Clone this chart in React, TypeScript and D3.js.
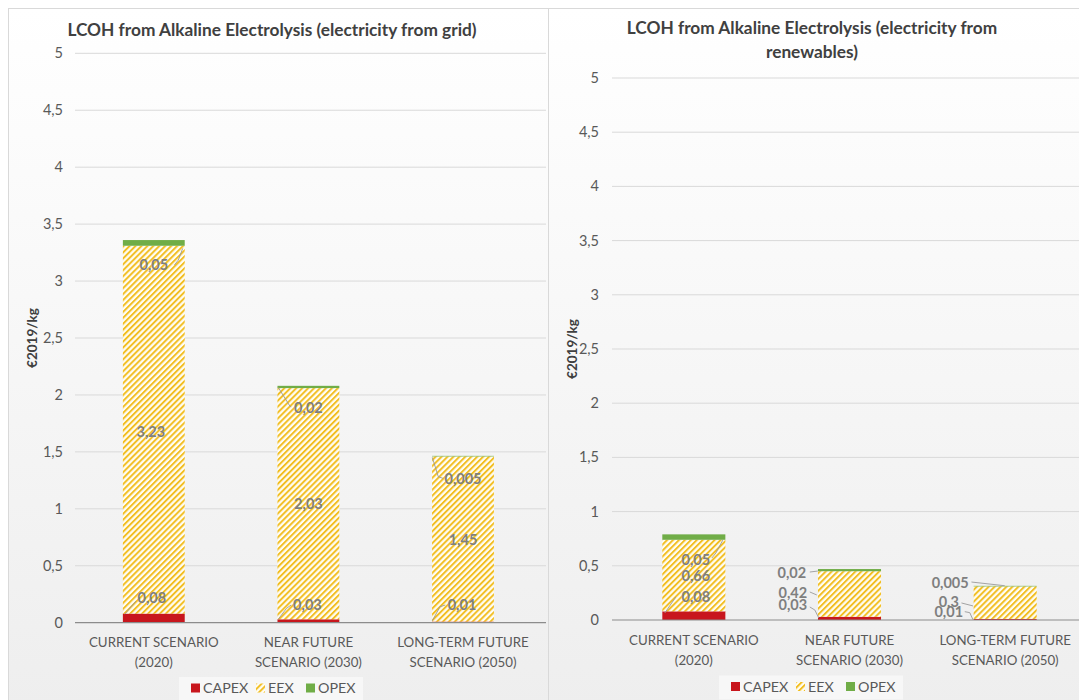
import React from "react";
import * as d3 from "d3";

// ---------- DATA ----------
const categories = ["CURRENT SCENARIO (2020)", "NEAR FUTURE SCENARIO (2030)", "LONG-TERM FUTURE SCENARIO (2050)"];
const categoryLines = [
  ["CURRENT SCENARIO", "(2020)"],
  ["NEAR FUTURE", "SCENARIO (2030)"],
  ["LONG-TERM FUTURE", "SCENARIO (2050)"],
];
const seriesNames = ["CAPEX", "EEX", "OPEX"];

const gridCapex = [0.08, 0.03, 0.01];
const gridEex = [3.23, 2.03, 1.45];
const gridOpex = [0.05, 0.02, 0.005];

const renewCapex = [0.08, 0.03, 0.01];
const renewEex = [0.66, 0.42, 0.3];
const renewOpex = [0.05, 0.02, 0.005];

const yTicks = [0, 0.5, 1, 1.5, 2, 2.5, 3, 3.5, 4, 4.5, 5];

const gridTitle = ["LCOH from Alkaline Electrolysis (electricity from grid)"];
const renewTitle = ["LCOH from Alkaline Electrolysis (electricity from", "renewables)"];
const yTitle = "€2019/kg";

// ---------- LAYOUT / STYLE ----------
const COLORS = { CAPEX: "#c8161d", OPEX: "#70ad47", EEX: "#f2bc1b" };
const FONT = "Lato, 'Open Sans', sans-serif";

type LabelPos = { dx: number; dy: number; leader?: number[][] };

// label offsets relative to (bar centre, segment middle), per category, per series
const gridLabelPos: LabelPos[][] = [
  [
    { dx: -2, dy: -20, leader: [[-29, -4], [-18, -17]] },
    { dx: -3, dy: 2 },
    { dx: 0, dy: 22, leader: [[20.5, 22.2], [24.5, 17.2], [28.9, 5.5]] },
  ],
  [
    { dx: -1, dy: -16, leader: [[-30.2, -1.7], [-21.8, -12.7], [-17.2, -16]] },
    { dx: 0, dy: 0.6 },
    { dx: 0, dy: 20.8, leader: [[-30.2, 0.4], [-18.5, 19.1], [-17.2, 19.8]] },
  ],
  [
    { dx: -1, dy: -17, leader: [[-30.7, -1.4], [-23, -15.4], [-17.7, -17.1]] },
    { dx: 0, dy: 1 },
    { dx: 0, dy: 23.2, leader: [[-30.7, 1.2], [-24.7, 20.6], [-20, 22.2]] },
  ],
];
const renewLabelPos: LabelPos[][] = [
  [
    { dx: 2, dy: -18.7, leader: [[-29, -2.7], [-18, -18.7]] },
    { dx: 2, dy: 0.5 },
    { dx: 2, dy: 23, leader: [[18, 21], [22, 16], [29, 3]] },
  ],
  [
    { dx: -56.7, dy: -13.4, leader: [[-39.7, -11.4], [-34.7, -8.4], [-30.7, -0.4]] },
    { dx: -56.7, dy: -1, leader: [[-39.7, -2], [-32.7, 1]] },
    { dx: -57.7, dy: 2.9, leader: [[-39.7, 1.9], [-31.7, 0.9]] },
  ],
  [
    { dx: -56.4, dy: -7.8, leader: [[-40.4, -7.8], [-35.4, -6.8], [-32.1, 0.5]] },
    { dx: -56.4, dy: -1, leader: [[-43.7, 0.3], [-32.1, 3.3]] },
    { dx: -55, dy: -3.4, leader: [[-33.7, -4.1], [-0.4, -0.4]] },
  ],
];

type ChartCfg = {
  id: string;
  panelX: number;
  panelW: number;
  plotX0: number;
  plotX1: number;
  gridX0: number;
  gridX1: number;
  y0: number;
  y5: number;
  padding: number;
  tickX: number;
  yTitleX: number;
  titleX: number;
  titleY: number;
  catY: number;
  legendX: number;
  legendY: number;
  capex: number[];
  eex: number[];
  opex: number[];
  title: string[];
  labelPos: LabelPos[][];
};

const charts: ChartCfg[] = [
  {
    id: "grid",
    panelX: 8,
    panelW: 540,
    plotX0: 76.5,
    plotX1: 540.3,
    gridX0: 75,
    gridX1: 546,
    y0: 622.7,
    y5: 53.3,
    padding: 0.6,
    tickX: 63,
    yTitleX: 32,
    titleX: 272,
    titleY: 36,
    catY: 647,
    legendX: 191,
    legendY: 688,
    capex: gridCapex,
    eex: gridEex,
    opex: gridOpex,
    title: gridTitle,
    labelPos: gridLabelPos,
  },
  {
    id: "renew",
    panelX: 548,
    panelW: 540,
    plotX0: 616,
    plotX1: 1083,
    gridX0: 612,
    gridX1: 1079,
    y0: 620,
    y5: 78,
    padding: 0.595,
    tickX: 599,
    yTitleX: 572,
    titleX: 812,
    titleY: 34,
    catY: 645,
    legendX: 731,
    legendY: 686.5,
    capex: renewCapex,
    eex: renewEex,
    opex: renewOpex,
    title: renewTitle,
    labelPos: renewLabelPos,
  },
];

const fmt = (v: number) => String(v).replace(".", ",");

function Chart({ cfg }: { cfg: ChartCfg }) {
  const x = d3
    .scaleBand<string>()
    .domain(categories)
    .range([cfg.plotX0, cfg.plotX1])
    .paddingInner(cfg.padding)
    .paddingOuter(cfg.padding / 2);
  const y = d3.scaleLinear().domain([0, 5]).range([cfg.y0, cfg.y5]);

  const table = categories.map((c, i) => ({
    cat: c,
    CAPEX: cfg.capex[i],
    EEX: cfg.eex[i],
    OPEX: cfg.opex[i],
  }));
  const stacked = d3.stack<any>().keys(seriesNames)(table);
  const fills: Record<string, string> = {
    CAPEX: COLORS.CAPEX,
    EEX: `url(#hatch-${cfg.id})`,
    OPEX: COLORS.OPEX,
  };
  const plotMid = (cfg.y0 + cfg.y5) / 2;
  const line = d3.line<number[]>().x((d) => d[0]).y((d) => d[1]);
  const legendOffsets = [0, 65, 115];

  return (
    <g>
      <defs>
        <linearGradient id={`bg-${cfg.id}`} x1="0" y1="0" x2="0" y2="1">
          <stop offset="0" stopColor="#ffffff" />
          <stop offset="1" stopColor="#eeeeee" />
        </linearGradient>
        <pattern
          id={`hatch-${cfg.id}`}
          patternUnits="userSpaceOnUse"
          width="4.2"
          height="4.2"
          patternTransform="rotate(45)"
        >
          <rect width="4.2" height="4.2" fill="#fffdf4" />
          <line x1="1" y1="-1" x2="1" y2="6" stroke={COLORS.EEX} strokeWidth="1.9" />
        </pattern>
      </defs>
      <rect
        x={cfg.panelX + 0.5}
        y={8.5}
        width={cfg.panelW}
        height={700}
        fill={`url(#bg-${cfg.id})`}
        stroke="#d9d9d9"
      />
      {/* title */}
      {cfg.title.map((t, i) => (
        <text
          key={i}
          x={cfg.titleX}
          y={cfg.titleY + i * 24}
          textAnchor="middle"
          fontFamily={FONT}
          fontWeight="bold"
          fontSize="17.3"
          fill="#404040"
        >
          {t}
        </text>
      ))}
      {/* grid */}
      {yTicks.map((t) => (
        <g key={t}>
          {t > 0 && (
            <line x1={cfg.gridX0} x2={cfg.gridX1} y1={y(t)} y2={y(t)} stroke="#d9d9d9" strokeWidth="1" />
          )}
          <text
            x={cfg.tickX}
            y={y(t)}
            dy="0.35em"
            textAnchor="end"
            fontFamily={FONT}
            fontSize="14.5"
            fill="#595959"
          >
            {fmt(t)}
          </text>
        </g>
      ))}
      {/* y title */}
      <text
        transform={`translate(${cfg.yTitleX},${plotMid}) rotate(-90)`}
        textAnchor="middle"
        dy="0.35em"
        fontFamily={FONT}
        fontWeight="bold"
        fontSize="13.5"
        fill="#404040"
      >
        {yTitle}
      </text>
      {/* bars */}
      {stacked.map((s) =>
        s.map((d, i) => (
          <rect
            key={s.key + i}
            x={x(categories[i])}
            width={x.bandwidth()}
            y={y(d[1])}
            height={Math.max(0, y(d[0]) - y(d[1]))}
            fill={fills[s.key]}
          />
        ))
      )}
      {/* baseline */}
      <line x1={cfg.gridX0} x2={cfg.gridX1} y1={y(0)} y2={y(0)} stroke="#8c8c8c" strokeWidth="1.2" />
      {/* labels */}
      {stacked.map((s, si) =>
        s.map((d, i) => {
          const cx = (x(categories[i]) as number) + x.bandwidth() / 2;
          const my = y((d[0] + d[1]) / 2);
          const p = cfg.labelPos[i][si];
          return (
            <g key={"l" + s.key + i}>
              {p.leader && (
                <path
                  d={line(p.leader.map((q) => [cx + q[0], my + q[1]])) || ""}
                  fill="none"
                  stroke="#9a9a9a"
                  strokeWidth="0.9"
                />
              )}
              <text
                x={cx + p.dx}
                y={my + p.dy}
                dy="0.35em"
                textAnchor="middle"
                fontFamily={FONT}
                fontWeight="bold"
                fontSize="14.5"
                fill="#7f7f7f"
              >
                {fmt(d.data[s.key])}
              </text>
            </g>
          );
        })
      )}
      {/* category labels */}
      {categoryLines.map((lines, i) => (
        <text
          key={"c" + i}
          x={(x(categories[i]) as number) + x.bandwidth() / 2}
          y={cfg.catY}
          textAnchor="middle"
          fontFamily={FONT}
          fontSize="13.3"
          fill="#595959"
        >
          {lines.map((ln, j) => (
            <tspan key={j} x={(x(categories[i]) as number) + x.bandwidth() / 2} dy={j === 0 ? 0 : 20}>
              {ln}
            </tspan>
          ))}
        </text>
      ))}
      {/* legend */}
      <rect x={cfg.legendX - 12} y={cfg.legendY - 11} width={184} height={24} fill="#f8f8f8" opacity="0.85" />
      {seriesNames.map((n, i) => (
        <g key={"lg" + n} transform={`translate(${cfg.legendX + legendOffsets[i]},${cfg.legendY})`}>
          <rect x={0} y={-4.5} width={9} height={9} fill={fills[n]} />
          <text x={12} y={0} dy="0.35em" fontFamily={FONT} fontSize="14.3" fill="#595959">
            {n}
          </text>
        </g>
      ))}
    </g>
  );
}

export default function App() {
  return (
    <svg
      width={1079}
      height={700}
      style={{ position: "absolute", left: 0, top: 0, background: "#ffffff" }}
    >
      {charts.map((c) => (
        <Chart key={c.id} cfg={c} />
      ))}
    </svg>
  );
}
